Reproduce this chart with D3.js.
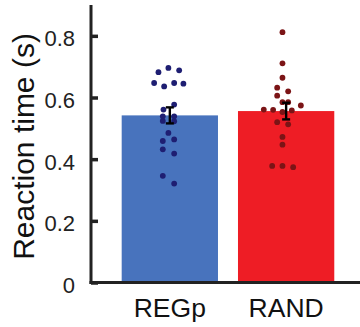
<!DOCTYPE html>
<html>
<head>
<meta charset="utf-8">
<script src="https://cdn.jsdelivr.net/npm/d3@7"></script>
<style>
	body { margin: 0; background: #fff; }
	svg { display: block; font-family: "Liberation Sans", Arial, sans-serif; }
</style>
</head>
<body>
<div id="chart"></div>
<script>
// Data
const groups = ["REGp", "RAND"];
const means = [0.542, 0.556];
const sems = [0.026, 0.027];
const regpValues = [0.696, 0.688, 0.682, 0.647, 0.647, 0.645, 0.636, 0.577, 0.561, 0.539,
	0.539, 0.524, 0.523, 0.485, 0.464, 0.459, 0.432, 0.418, 0.346, 0.321];
const regpJitter = [-0.015, 0.097, -0.118, -0.163, 0.045, 0.141, -0.059, 0.045, -0.066, -0.073,
	0.045, -0.073, 0.045, -0.015, 0.045, -0.073, -0.073, 0.045, -0.073, 0.045];
const randValues = [0.812, 0.711, 0.664, 0.632, 0.620, 0.606, 0.585, 0.585, 0.574, 0.561,
	0.560, 0.558, 0.553, 0.520, 0.513, 0.472, 0.447, 0.378, 0.378, 0.374];
const randJitter = [-0.038, -0.038, -0.038, -0.093, 0.021, -0.093, -0.038, 0.021, 0.153, -0.232,
	-0.135, 0.059, -0.038, -0.093, 0.021, -0.038, -0.038, -0.145, -0.038, 0.073];
const yTicks = [0, 0.2, 0.4, 0.6, 0.8];

const barColors = ["#4873bd", "#ee1d25"];
const dotColors = ["#1e1e72", "#7b1416"];

const width = 360;
const height = 327;

const svg = d3.select("#chart")
	.append("svg")
	.attr("width", width)
	.attr("height", height);

// Scales
const x = d3.scaleBand()
	.domain(groups)
	.range([91, 360])
	.paddingInner(0.172)
	.paddingOuter(0.2425)
	.align(0.544);

const y = d3.scaleLinear()
	.domain([0, 0.9])
	.range([282.5, 5]);

const cx = g => x(g) + x.bandwidth() / 2;

// Bars
svg.selectAll(".bar")
	.data(groups)
	.enter()
	.append("rect")
	.attr("class", "bar")
	.attr("x", d => x(d))
	.attr("y", (d, i) => y(means[i]))
	.attr("width", x.bandwidth())
	.attr("height", (d, i) => y(0) - y(means[i]))
	.attr("fill", (d, i) => barColors[i]);

// Individual subject points
const sets = [
	{ values: regpValues, jitter: regpJitter },
	{ values: randValues, jitter: randJitter }
];
sets.forEach((s, gi) => {
	svg.append("g")
		.selectAll("circle")
		.data(s.values)
		.enter()
		.append("circle")
		.attr("cx", (d, i) => cx(groups[gi]) + s.jitter[i] * x.bandwidth())
		.attr("cy", d => y(d))
		.attr("r", 2.9)
		.attr("fill", dotColors[gi]);
});

// Error bars (SEM)
const eb = svg.selectAll(".errbar")
	.data(groups)
	.enter()
	.append("g")
	.attr("class", "errbar")
	.attr("stroke", "#000")
	.attr("stroke-width", 2.4);

eb.append("line")
	.attr("x1", d => cx(d))
	.attr("x2", d => cx(d))
	.attr("y1", (d, i) => y(means[i] - sems[i]))
	.attr("y2", (d, i) => y(means[i] + sems[i]));

[-1, 1].forEach(sgn => {
	eb.append("line")
		.attr("x1", d => cx(d) - 4)
		.attr("x2", d => cx(d) + 4)
		.attr("y1", (d, i) => y(means[i] + sgn * sems[i]))
		.attr("y2", (d, i) => y(means[i] + sgn * sems[i]));
});

// Y axis (ticks point inward)
const yAxis = svg.append("g")
	.attr("transform", `translate(${x.range()[0]},0)`)
	.call(d3.axisLeft(y).tickValues(yTicks).tickSize(-7).tickPadding(16)
		.tickFormat(d => d === 0 ? "0" : d3.format(".1f")(d)));

yAxis.select(".domain").remove();
yAxis.selectAll(".tick line")
	.attr("stroke", "#222")
	.attr("stroke-width", 3.5);
yAxis.selectAll(".tick text")
	.attr("font-size", 22)
	.attr("fill", "#222")
	.attr("dy", "0.45em");

// Axis lines
svg.append("line")
	.attr("x1", x.range()[0])
	.attr("x2", x.range()[0])
	.attr("y1", y.range()[1])
	.attr("y2", y(0) + 1.5)
	.attr("stroke", "#222")
	.attr("stroke-width", 3);

svg.append("line")
	.attr("x1", x.range()[0] - 1.5)
	.attr("x2", x.range()[1])
	.attr("y1", y(0))
	.attr("y2", y(0))
	.attr("stroke", "#222")
	.attr("stroke-width", 3);

// X labels
svg.selectAll(".xlabel")
	.data(groups)
	.enter()
	.append("text")
	.attr("class", "xlabel")
	.attr("x", d => cx(d))
	.attr("y", 316.5)
	.attr("text-anchor", "middle")
	.attr("font-size", 26.5)
	.attr("fill", "#111")
	.text(d => d);

// Y label
svg.append("text")
	.attr("transform", "translate(34,146.5) rotate(-90)")
	.attr("text-anchor", "middle")
	.attr("font-size", 30)
	.attr("fill", "#111")
	.text("Reaction time (s)");
</script>
</body>
</html>
